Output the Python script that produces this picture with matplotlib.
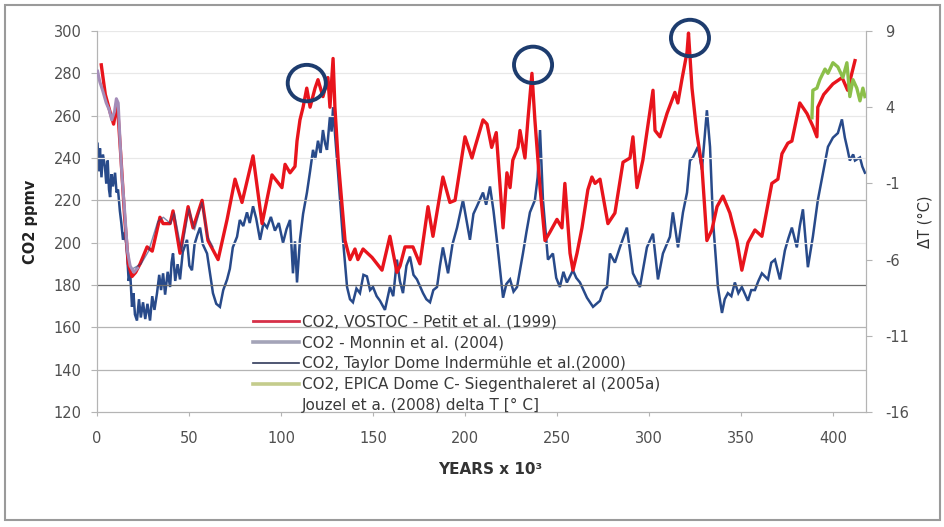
import matplotlib.pyplot as plt
from matplotlib.patches import Ellipse, Rectangle
from matplotlib.lines import Line2D

plt.rcParams['axes.unicode_minus'] = False

# ---------------------------------------------------
#   Data (kyr before present)
# ---------------------------------------------------
vostok_kyr = [2.3, 4.5, 7, 9, 11, 13, 15, 17, 19, 21, 23.4, 27.2, 30, 34.2, 35.9, 39.7, 41.3,
              45.1, 49.5, 52.2, 57.1, 60.3, 65.8, 70.7, 75.0, 78.8, 84.8, 89.7, 95.1, 100.5,
              102.2, 104.9, 107.6, 108.7, 110.3, 112, 114, 115.8, 118.5, 120.1, 122.8, 125.5,
              126.6, 128.3, 129.3, 131, 134.8, 137.5, 140.2, 141.8, 144.6, 149.5, 154.9, 159.2,
              163, 164.7, 167.4, 171.7, 175.5, 179.9, 182.6, 188, 191.8, 194.6, 200, 203.8,
              205.4, 209.8, 212, 214.5, 217, 218.5, 220.7, 222.8, 224.5, 226, 228.8, 229.9,
              232.6, 234.2, 236.4, 238, 240.8, 243.5, 246.2, 250, 252.7, 254.3, 257.1, 258.7,
              260.9, 263.6, 266.8, 269, 270.7, 273.4, 277.7, 281.5, 285.9, 289.7, 291.3, 293.5,
              296.7, 302.2, 303.3, 306, 309.8, 314.1, 315.7, 317.9, 320.7, 321.5, 323.4, 326,
              328.8, 331.5, 334.2, 337, 340.2, 344, 347.8, 350.5, 353.8, 357.6, 361.4, 366.8,
              370.1, 372.3, 375.5, 377.7, 382, 385.9, 389.1, 391.3, 391.8, 395, 400, 405, 408,
              412]
vostok_co2 = [284, 270, 262, 256, 266, 240, 212, 190, 184, 186, 190, 198, 196, 212, 209, 209, 215,
              195, 217, 207, 220, 201, 192, 211, 230, 219, 241, 209, 232, 226,
              237, 233, 236, 248, 258, 264, 273, 264, 273, 277, 269, 278,
              264, 287, 264, 240, 201, 192, 197, 192, 197, 193, 187, 203,
              186, 189, 198, 198, 190, 217, 203, 231, 219, 220, 250, 240,
              245, 258, 256, 245, 252, 234, 207, 233, 226, 239, 245, 253,
              240, 258, 280, 258, 226, 201, 205, 211, 207, 228, 195, 187,
              195, 207, 225, 231, 228, 230, 209, 214, 238, 240, 250, 226,
              239, 272, 253, 250, 261, 271, 266, 277, 290, 299, 273, 252,
              236, 201, 206, 217, 222, 214, 201, 187, 200, 206, 203, 228,
              230, 242, 247, 248, 266, 261, 255, 250, 264, 270, 275, 278, 272,
              286]

monnin_kyr = [0.3, 1.5, 3, 5, 6.5, 8, 9.5, 10.5, 11.5, 12.5, 13.5, 15, 16.5, 18, 20, 22]
monnin_co2 = [281, 276, 272, 266, 263, 258, 262, 268, 266, 248, 232, 215, 196, 189, 186, 188]

taylor_kyr = [20, 24, 28, 33, 36, 40, 42, 46, 50, 53, 57, 60, 63]
taylor_co2 = [188, 190, 196, 210, 212, 209, 214, 196, 216, 206, 219, 203, 198]

epica_kyr = [388.6, 389.1, 391.3, 392.9, 395.7, 397.3, 400, 402.7, 405.4, 407.6, 409.2, 410.9,
             413, 414.7, 416.3, 417.4]
epica_co2 = [259, 272, 273, 277, 282, 280, 285, 283, 278, 285, 269, 277, 273, 267, 273, 269]

jouzel_kyr = [0.3, 0.9, 1.6, 2.4, 3.2, 4.3, 5.0, 5.8, 6.5, 7.1, 7.8, 8.6, 9.8, 10.6, 11.4, 12.4,
              13.2, 14.1, 15.2, 16.3, 17.2, 18.0, 19.0, 19.8, 20.6, 21.7, 22.8, 23.8, 25.0, 26.2,
              27.4, 28.8, 30.0, 31.2, 32.6, 33.8, 34.8, 35.9, 37.0, 38.4, 39.7, 40.5, 41.3, 42.5,
              43.8, 45.1, 46.6, 48.9, 50.2, 51.6, 53.0, 54.5, 56.0, 57.5, 59.8, 61.5, 63.0, 64.8,
              66.8, 68.6, 70.7, 72.2, 73.8, 76.1, 77.6, 79.5, 81.5, 83.0, 84.8, 86.5, 88.6, 90.5,
              92.4, 94.5, 96.7, 98.8, 101.1, 103.0, 104.9, 106.5, 107.6, 108.7, 110.3, 112.0,
              114.1, 115.8, 117.4, 118.6, 120.1, 121.5, 122.8, 124.0, 125.0, 126.6, 127.5, 128.3,
              129.5, 131.0, 132.4, 133.7, 135.9, 137.5, 139.1, 141.0, 142.9, 144.8, 146.7, 148.4,
              150.0, 152.0, 153.8, 156.5, 159.2, 161.0, 163.0, 164.6, 166.3, 168.2, 170.1, 172.0,
              173.9, 177.2, 179.0, 181.0, 182.8, 184.8, 186.4, 188.0, 190.8, 193.2, 195.7, 198.9,
              200.8, 202.7, 204.6, 206.5, 209.8, 211.5, 213.6, 215.5, 217.4, 219.0, 220.7, 222.5,
              224.5, 226.4, 228.3, 231.5, 233.4, 235.3, 238.0, 239.5, 240.8, 241.6, 242.4, 245.1,
              247.8, 249.6, 251.6, 253.5, 255.4, 258.7, 260.5, 262.5, 266.3, 269.6, 273.4, 275.3,
              277.2, 278.8, 281.5, 284.2, 288.0, 291.3, 295.1, 298.9, 302.2, 304.9, 307.6, 311.4,
              313.0, 315.8, 318.5, 320.7, 322.3, 323.9, 326.6, 328.8, 331.5, 333.2, 334.8, 337.5,
              339.7, 341.2, 342.9, 344.8, 346.7, 348.6, 350.5, 353.8, 355.6, 357.6, 359.5, 361.4,
              364.7, 366.5, 368.5, 371.2, 373.9, 375.8, 377.7, 380.4, 382.0, 383.7, 386.4, 389.1,
              391.8, 394.6, 397.3, 400.0, 402.7, 404.9, 406.5, 408.0, 409.2, 411.0, 412.0, 414.7,
              416.0, 417.4]
jouzel_dT = [1.6, -0.2, 1.3, -0.6, 0.9, 0.1, -1.0, 0.5, -1.4, -1.9, -0.4, -1.2, -0.3, -1.6, -1.4, -2.8,
             -3.6, -4.7, -4.2, -5.6, -7.4, -6.8, -9.1, -8.2, -9.6, -10.0, -8.6, -9.8, -8.8, -9.9,
             -8.9, -10.0, -8.4, -9.3, -8.2, -7.0, -8.0, -6.9, -8.3, -6.8, -7.8, -6.2, -5.6, -7.4,
             -6.3, -7.3, -5.5, -4.7, -6.4, -6.7, -5.0, -4.4, -3.9, -5.0, -5.6, -7.0, -8.2, -8.9,
             -9.1, -8.0, -7.3, -6.6, -5.2, -4.5, -3.4, -3.8, -2.9, -3.6, -2.5, -3.3, -4.7, -3.6,
             -3.9, -3.2, -4.1, -3.6, -4.9, -4.0, -3.4, -6.9, -4.8, -7.5, -4.7, -3.0,
             -1.6, -0.2, 1.2, 0.6, 1.8, 1.0, 2.5, 1.6, 1.2, 3.4, 2.4, 4.0,
             2.0, -0.3, -2.6, -4.7, -7.8, -8.6, -8.8, -7.9, -8.2, -7.0, -7.1, -8.0,
             -7.8, -8.4, -8.7, -9.3, -7.8, -8.4, -6.0, -7.4, -8.2, -6.4, -5.8, -7.0,
             -7.3, -8.2, -8.6, -8.8, -8.0, -7.8, -6.4, -5.2, -6.9, -5.0, -3.9, -2.1,
             -3.4, -4.7, -3.0, -2.5, -1.6, -2.4, -1.2, -2.8, -4.8, -6.6, -8.5, -7.6,
             -7.3, -8.1, -7.8, -5.6, -4.2, -2.9, -2.1, -0.6, 2.5, 0.2, -2.1, -6.0,
             -5.6, -7.2, -7.8, -6.8, -7.5, -6.7, -7.2, -7.5, -8.5, -9.1, -8.7, -8.0,
             -7.8, -5.6, -6.2, -5.2, -3.9, -6.9, -7.8, -5.2, -4.3, -7.3, -5.6, -4.5,
             -2.9, -5.2, -2.9, -1.6, 0.5, 0.7, 1.4, -0.1, 3.8, 1.4, -3.4, -7.8,
             -9.5, -8.6, -8.2, -8.4, -7.5, -8.2, -7.8, -8.7, -8.0, -8.0, -7.4, -6.9,
             -7.3, -6.2, -6.0, -7.3, -5.4, -4.6, -3.9, -5.2, -3.8, -2.7, -6.5, -4.5,
             -2.1, -0.3, 1.4, 2.0, 2.3, 3.2, 2.0, 1.2, 0.5, 0.9, 0.5, 0.7,
             0.1, -0.3]

co2_ticks = list(range(120, 301, 20))
dT_ticks = [9, 4, -1, -6, -11, -16]
year_ticks = list(range(0, 401, 50))

# circled peaks (kyr, ppmv)
peaks_kyr = [114, 237, 322.3]
peaks_co2 = [275.4, 284, 296.7]

labels = ['CO2, VOSTOC - Petit et al. (1999)',
          'CO2 - Monnin et al. (2004)',
          'CO2, Taylor Dome Indermühle et al.(2000)',
          'CO2, EPICA Dome C- Siegenthaleret al (2005a)',
          'Jouzel et a. (2008) delta T [° C]']

# ---------------------------------------------------
#   Figure
# ---------------------------------------------------
fig = plt.figure(figsize=(9.44, 5.27), dpi=100)
ax = fig.add_axes([0.1028, 0.2182, 0.8146, 0.7230])
ax2 = ax.twinx()

# temperature underneath the CO2 curves
ax.set_zorder(ax2.get_zorder() + 1)
ax.patch.set_visible(False)

t_line, = ax2.plot(jouzel_kyr, jouzel_dT, color='#284a8a', lw=1.8, solid_joinstyle='miter')

for v in co2_ticks[1:]:
    if v == 180:
        c = '#6e6e6e'
    elif v in (140, 160, 220):
        c = '#b4b4b4'
    else:
        c = '#e8e8e8'
    ax.axhline(v, color=c, lw=0.9, zorder=0)

v_line, = ax.plot(vostok_kyr, vostok_co2, color='#e8141c', lw=2.4, zorder=3)
m_line, = ax.plot(monnin_kyr, monnin_co2, color='#a48cb8', lw=2.2, zorder=4)
td_line, = ax.plot(taylor_kyr, taylor_co2, color='#243f7a', lw=1.0, alpha=0.6, zorder=4)
e_line, = ax.plot(epica_kyr, epica_co2, color='#8cbf4a', lw=2.4, zorder=4)

for px, py in zip(peaks_kyr, peaks_co2):
    ax.add_patch(Ellipse((px, py), 20.7, 17.2, fill=False, ec='#1d3c6e', lw=2.8,
                         zorder=6, clip_on=False))

ax.set_xlim(0, 418)
ax.set_ylim(120, 300)
ax2.set_ylim(-16, 9)
ax.set_xticks(year_ticks)
ax.set_yticks(co2_ticks)
ax2.set_yticks(dT_ticks)

for a in (ax, ax2):
    for s in a.spines.values():
        s.set_color('#b4b4b4')
    a.spines['top'].set_visible(False)
ax.tick_params(axis='y', length=4, pad=7, color='#b4b4b4', labelcolor='#505050', labelsize=10.5)
ax.tick_params(axis='x', length=3, pad=11, color='#b4b4b4', labelcolor='#505050', labelsize=10.5)
ax2.tick_params(axis='y', length=4, pad=10, color='#b4b4b4', labelcolor='#505050', labelsize=10.5)

ax.set_ylabel('CO2 ppmv', fontsize=10.5, fontweight='bold', color='#222222', va='center')
ax.yaxis.set_label_coords(-0.0871, 0.5)
ax2.set_ylabel('ΔT (°C)', fontsize=10.5, color='#333333', rotation=90, va='center')
ax2.yaxis.set_label_coords(1.0767, 0.5)
ax.set_xlabel('YEARS x 10³', fontsize=11, fontweight='bold', color='#333333', va='center')
ax.xaxis.set_label_coords(0.511, -0.1496)

blank = Line2D([], [], color='none')
ax.legend([Line2D([], [], color='#d63048', lw=2.0),
           Line2D([], [], color='#a4a4b8', lw=2.6),
           Line2D([], [], color='#303a5a', lw=1.2),
           Line2D([], [], color='#c4cc8c', lw=2.6),
           blank], labels,
          loc='upper left', bbox_to_anchor=(0.203, 0.256), frameon=False, fontsize=11,
          handlelength=3.0, handletextpad=0.2, labelspacing=0.38, borderpad=0,
          borderaxespad=0, labelcolor='#3a3a3a')

fig.patches.append(Rectangle((0.0053, 0.0133), 0.9905, 0.977, transform=fig.transFigure,
                             fill=False, ec='#9a9a9a', lw=1.5))

fig.savefig('out.png', dpi=100)
